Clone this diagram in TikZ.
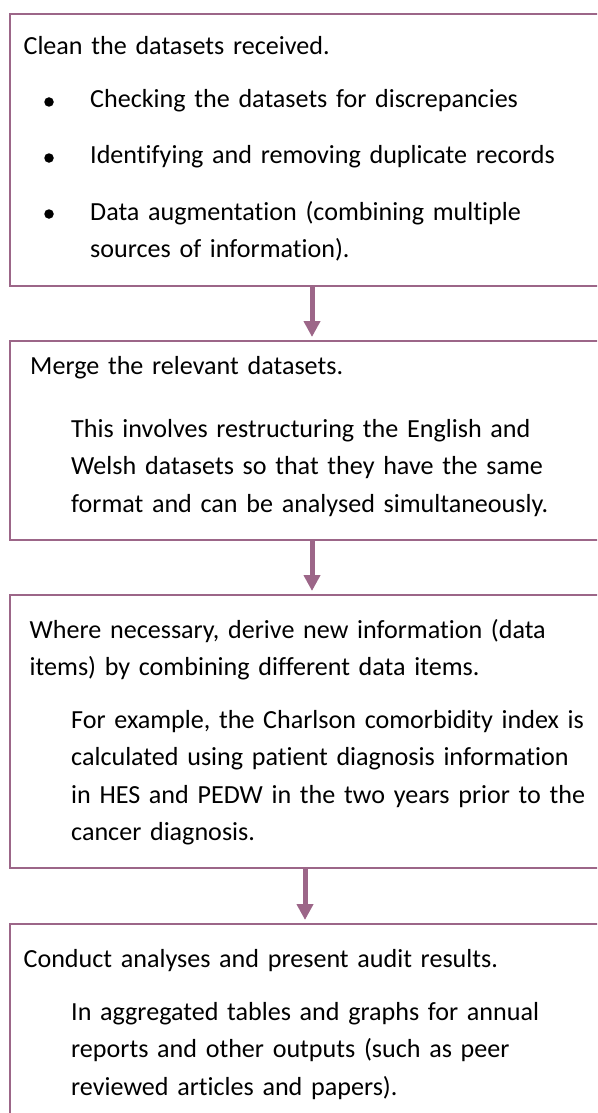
\documentclass[tikz,border=0pt]{standalone}
\usepackage{fontspec}
\setmainfont{Carlito}[Ligatures=NoCommon]
\usepackage{xcolor}
\usetikzlibrary{arrows.meta, positioning}

\definecolor{mauve}{RGB}{156,102,136}

\begin{document}
\begin{tikzpicture}[x=1pt,y=1pt,node distance=55pt,font=\fontsize{26.1}{37.5}\selectfont]

                \tikzset{stepbox/.style={rectangle, draw=mauve, line width=2pt, minimum width=604pt, inner sep=0pt, outer sep=0pt},
                         para/.style={anchor=base west, inner sep=0pt, align=left, text width=540pt},
                         dot/.style={circle, fill=black, inner sep=0pt, minimum size=9.5pt},
                         flow/.style={draw=mauve, line width=5pt, -{Triangle[width=16pt,length=16pt]}, shorten >=4pt}}

                \useasboundingbox (0,0) rectangle (597,-1113);
                \clip (0,0) rectangle (597,-1113);

                \node[stepbox, minimum height=272pt, anchor=north west] (A) at (10,-14) {};
                \node[stepbox, minimum height=199pt] (B) [below=of A] {};
                \node[stepbox, minimum height=273pt] (C) [below=of B] {};
                \node[stepbox, minimum height=220pt] (D) [below=56pt of C] {};

                \node[para] (A1) at ([xshift=13.4pt, yshift=-41pt]A.north west) {Clean the datasets received.};
                \node[para] (A2) at ([xshift=80pt, yshift=-94pt]A.north west) {Checking the datasets for discrepancies};
                \node[para] (A3) at ([xshift=80pt, yshift=-150pt]A.north west) {Identifying and removing duplicate records};
                \node[para] (A4) at ([xshift=80pt, yshift=-206pt]A.north west) {Data augmentation (combining multiple\\ sources of information).};
                \node[dot] (A2dot) at ([xshift=-41pt, yshift=6pt]A2.base west) {};
                \node[dot] (A3dot) at ([xshift=-41pt, yshift=6pt]A3.base west) {};
                \node[dot] (A4dot) at ([xshift=-41pt, yshift=6pt]A4.base west) {};

                \node[para] (B1) at ([xshift=20pt, yshift=-33pt]B.north west) {Merge the relevant datasets.};
                \node[para] (B2) at ([xshift=61pt, yshift=-96pt]B.north west) {This involves restructuring the English and\\ Welsh datasets so that they have the same\\ format and can be analysed simultaneously.};

                \node[para] (C1) at ([xshift=19.5pt, yshift=-43pt]C.north west) {Where necessary, derive new information (data\\ items) by combining different data items.};
                \node[para] (C2) at ([xshift=61pt, yshift=-133pt]C.north west) {For example, the Charlson comorbidity index is\\ calculated using patient diagnosis information\\ in HES and PEDW in the two years prior to the\\ cancer diagnosis.};

                \node[para] (D1) at ([xshift=13.4pt, yshift=-43pt]D.north west) {Conduct analyses and present audit results.};
                \node[para] (D2) at ([xshift=61pt, yshift=-96pt]D.north west) {In aggregated tables and graphs for annual\\ reports and other outputs (such as peer\\ reviewed articles and papers).};

                \path (A) edge[flow] (B);
                \path (B) edge[flow] (C);
                \path ([xshift=-7pt]C.south) edge[flow] ([xshift=-7pt]D.north);
            \end{tikzpicture}
\end{document}
